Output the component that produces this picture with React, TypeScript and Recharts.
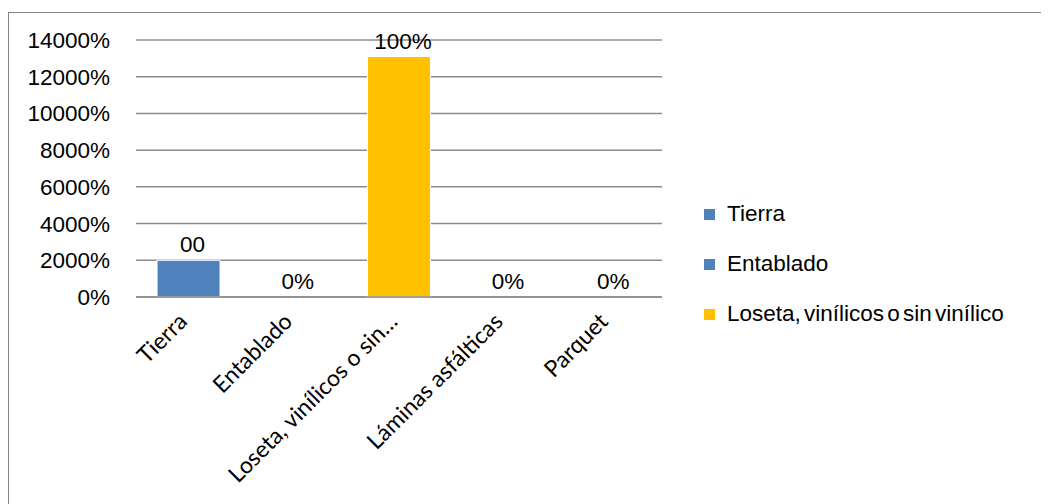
import { BarChart, Bar, XAxis, YAxis, CartesianGrid } from 'recharts';

const categories = ['Tierra', 'Entablado', 'Loseta, vinílicos o sin vinílico', 'Láminas asfálticas', 'Parquet'];
const tickLabels = ['Tierra', 'Entablado', 'Loseta, vinílicos o sin…', 'Láminas asfálticas', 'Parquet'];
const values = [2000, 0, 13100, 0, 0];
const valueLabels = ['00', '0%', '100%', '0%', '0%'];
const barColors = ['#4F81BD', '#4F81BD', '#FFC000', '#4F81BD', '#4F81BD'];
const yTicks = [0, 2000, 4000, 6000, 8000, 10000, 12000, 14000];
const legendNames = ['Tierra', 'Entablado', 'Loseta, vinílicos o sin vinílico'];
const legendColors = ['#4F81BD', '#4F81BD', '#FFC000'];

const data = categories.map((c, i) => ({
  name: c,
  tick: tickLabels[i],
  value: values[i],
  label: valueLabels[i],
  color: barColors[i],
}));

const font = '"Liberation Sans", Arial, sans-serif';

const CategoryTick = ({ x, y, payload }: any) => (
  <text
    x={x}
    y={y + 18}
    transform={`rotate(-45 ${x} ${y + 18})`}
    textAnchor="end"
    fontFamily="Lato, sans-serif"
    fontSize={23}
    fill="#000"
  >
    {data[payload.index]?.tick}
  </text>
);

// bar plus its value label, so zero bars still get a label
const BarWithLabel = ({ x, y, width, height, payload }: any) => (
  <g>
    {height > 0 && (
      <rect x={x} y={y} width={width} height={height} fill={payload.color} stroke="#ffffff" strokeWidth={1} />
    )}
    <text x={x + width / 2 + 4} y={y - 8} textAnchor="middle" fontFamily={font} fontSize={22.5} fill="#000">
      {payload.label}
    </text>
  </g>
);

export default function App() {
  return (
    <div
      style={{
        position: 'relative',
        marginTop: 4,
        width: 1038,
        height: 495,
        border: '1px solid #868686',
        background: '#fff',
      }}
    >
      <BarChart width={1038} height={495} data={data} margin={{ top: 27, right: 385, left: 0, bottom: 0 }} barCategoryGap="20%">
        <CartesianGrid vertical={false} stroke="#8c8c8c" strokeWidth={1.5} />
        <XAxis
          dataKey="name"
          tick={<CategoryTick />}
          tickLine={false}
          axisLine={{ stroke: '#8c8c8c', strokeWidth: 1.5 }}
          height={211}
          interval={0}
        />
        <YAxis
          domain={[0, 14000]}
          ticks={yTicks}
          tickFormatter={(v: number) => `${v}%`}
          width={127}
          axisLine={false}
          tickLine={false}
          tickSize={0}
          tickMargin={26}
          tick={{ fontFamily: font, fontSize: 22.5, fill: '#000' }}
        />
        <Bar dataKey="value" isAnimationActive={false} shape={<BarWithLabel />} />
      </BarChart>
      <div style={{ position: 'absolute', left: 695, top: 176, fontFamily: font, fontSize: 22.5, color: '#000' }}>
        {legendNames.map((n, i) => (
          <div key={n} style={{ display: 'flex', alignItems: 'center', height: 50 }}>
            <span style={{ display: 'inline-block', width: 11, height: 11, background: legendColors[i], marginRight: 12 }} />
            <span style={{ whiteSpace: 'nowrap', wordSpacing: -3 }}>{n}</span>
          </div>
        ))}
      </div>
    </div>
  );
}
